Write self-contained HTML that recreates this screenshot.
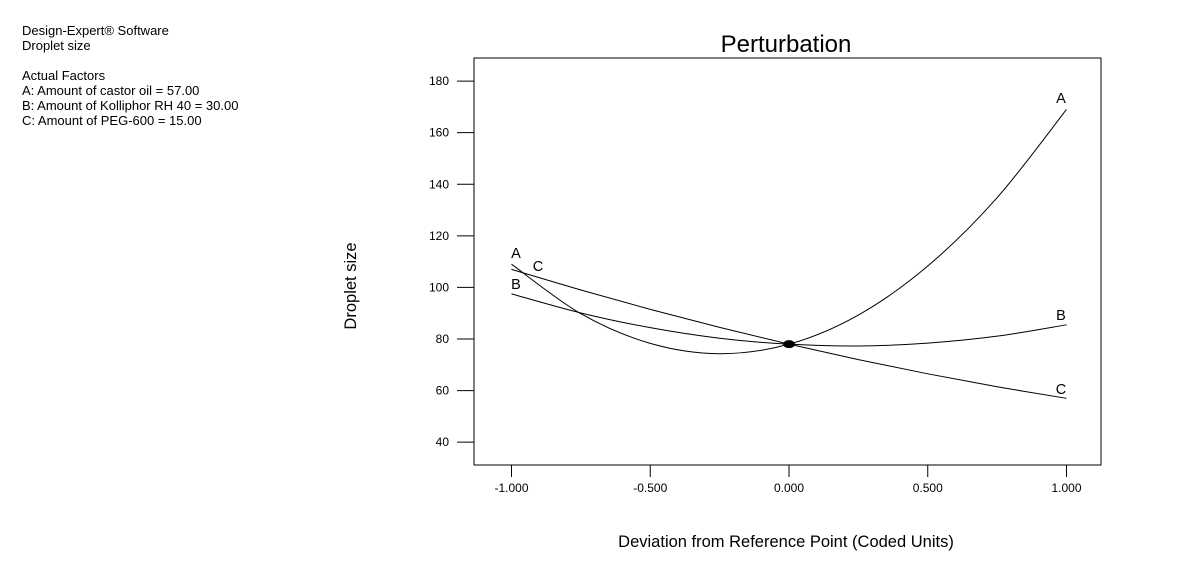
<!DOCTYPE html>
<html><head><meta charset="utf-8"><style>
html,body{margin:0;padding:0;background:#fff;}
body{width:1187px;height:576px;overflow:hidden;position:relative;font-family:"Liberation Sans",Arial,sans-serif;}
.info{position:absolute;left:22px;top:23px;font-size:13px;line-height:15px;color:#000;white-space:pre;}
</style></head><body>
<div class="info">Design-Expert® Software
Droplet size

Actual Factors
A: Amount of castor oil = 57.00
B: Amount of Kolliphor RH 40 = 30.00
C: Amount of PEG-600 = 15.00</div>
<svg id="chart" width="1187" height="576" style="position:absolute;left:0;top:0"></svg>
<script>
const xTicks=[-1,-0.5,0,0.5,1];
const xTickLabels=["-1.000","-0.500","0.000","0.500","1.000"];
const yTicks=[40,60,80,100,120,140,160,180];
const xPts=[-1,-0.75,-0.5,-0.25,0,0.25,0.5,0.75,1];
const seriesA=[109,89.8,78.3,74.3,78,89.3,108.3,134.8,169];
const seriesB=[97.5,90.1,84.4,80.3,78,77.3,78.4,81.1,85.5];
const seriesC=[107,99,91.5,84.5,78,72,66.5,61.5,57];
const seriesNames=["A","B","C"];

const NS="http://www.w3.org/2000/svg";
const svg=document.getElementById('chart');
const L=474,R=1101,T=58,B=465;
const xS=v=>789+v*277.5;
const yS=v=>339-(v-80)*2.579;
function mk(tag,attrs,parent){const e=document.createElementNS(NS,tag);for(const k in attrs)e.setAttribute(k,attrs[k]);(parent||svg).appendChild(e);return e;}

let t=mk('text',{x:786,y:52,'text-anchor':'middle','font-size':24,'font-family':'Liberation Sans, Arial, sans-serif'});
t.textContent='Perturbation';



let frame=mk('rect',{x:L,y:T,width:R-L,height:B-T,fill:'none',stroke:'#000','stroke-width':1});



yTicks.forEach(v=>{
  const y=yS(v);
  let l=mk('line',{x1:457,x2:L,y1:y,y2:y,stroke:'#000'});
  
  
  let tx=mk('text',{x:449,y:y+4,'text-anchor':'end','font-size':12});
  tx.textContent=v;
  
  
});
xTicks.forEach((v,i)=>{
  const x=xS(v);
  let l=mk('line',{x1:x,x2:x,y1:B,y2:477,stroke:'#000'});
  
  
  let tx=mk('text',{x:x,y:492,'text-anchor':'middle','font-size':12});
  tx.textContent=xTickLabels[i];
  
  
});
let xt=mk('text',{x:786,y:547,'text-anchor':'middle','font-size':16.5});
xt.textContent='Deviation from Reference Point (Coded Units)';


let yt=mk('text',{x:0,y:0,'text-anchor':'middle','font-size':16.5,transform:'translate(356,286) rotate(-90)'});
yt.textContent='Droplet size';



function pathFor(vals){
  const p=xPts.map((x,i)=>[xS(x),yS(vals[i])]);
  let d='M'+p[0][0]+','+p[0][1];
  for(let i=0;i<p.length-1;i++){
    const p0=p[Math.max(i-1,0)],p1=p[i],p2=p[i+1],p3=p[Math.min(i+2,p.length-1)];
    const c1=[p1[0]+(p2[0]-p0[0])/6,p1[1]+(p2[1]-p0[1])/6];
    const c2=[p2[0]-(p3[0]-p1[0])/6,p2[1]-(p3[1]-p1[1])/6];
    d+=' C'+c1+' '+c2+' '+p2;
  }
  return d;
}
const allSeries=[seriesA,seriesB,seriesC];
allSeries.forEach((s,i)=>{
  let p=mk('path',{d:pathFor(s),fill:'none',stroke:'#000','stroke-width':1});
  
  
});
const leftLX=[516,516,538];
const leftBase=[258,289,271];
const rightBase=[103,320,394];
allSeries.forEach((s,i)=>{
  let a=mk('text',{x:leftLX[i],y:leftBase[i],'text-anchor':'middle','font-size':14.5});
  a.textContent=seriesNames[i];
  
  
  let b=mk('text',{x:1061,y:rightBase[i],'text-anchor':'middle','font-size':14.5});
  b.textContent=seriesNames[i];
  
  
});
let dot=mk('ellipse',{cx:xS(0),cy:yS(seriesA[4]),rx:6,ry:4,fill:'#000'});


</script>
</body></html>
